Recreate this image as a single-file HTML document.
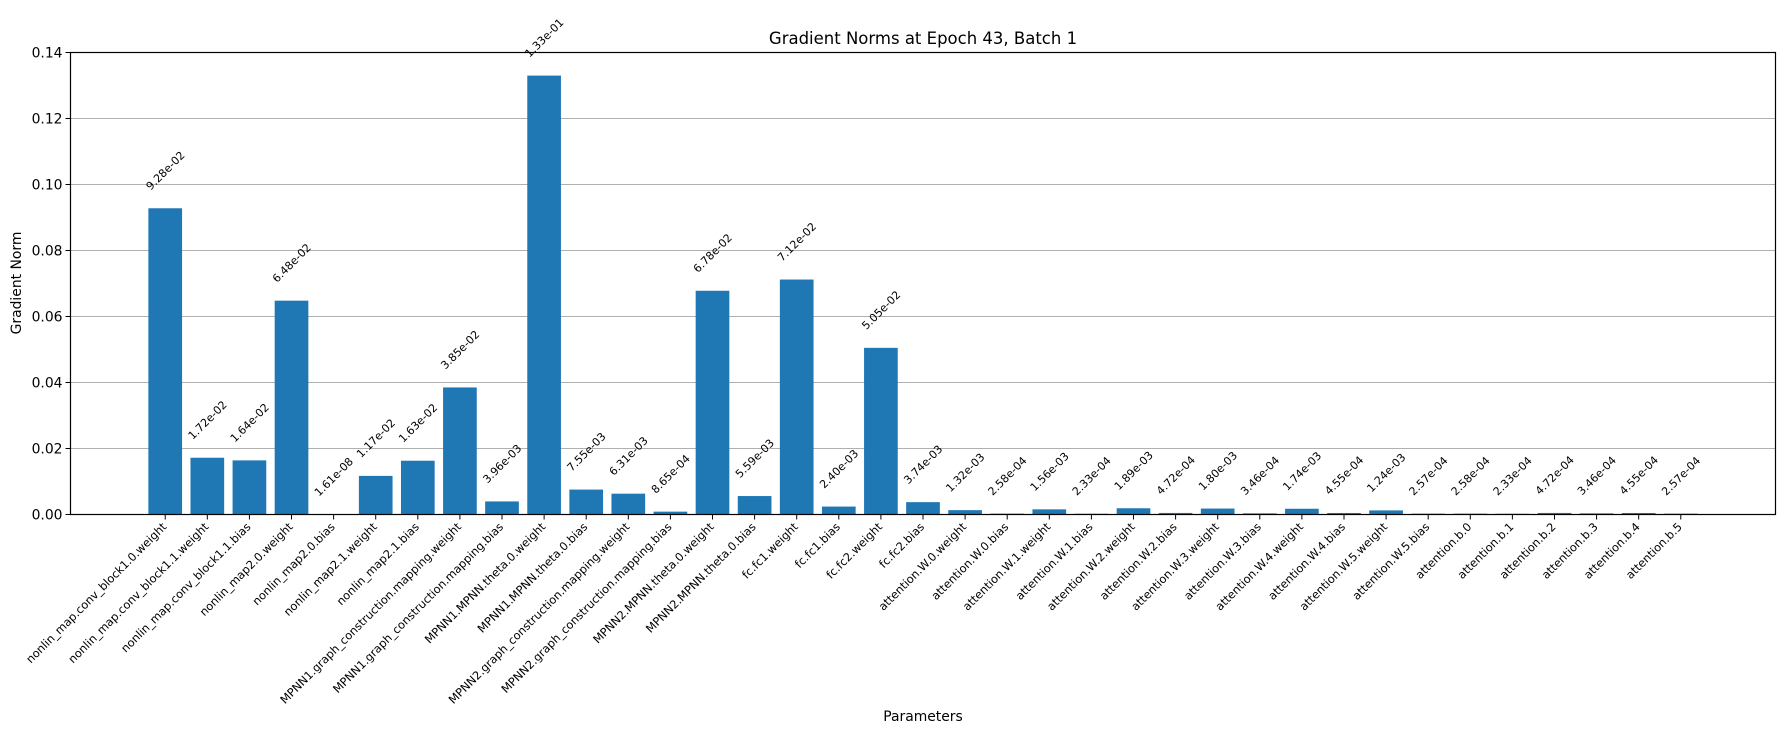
<!DOCTYPE html>
<html><head><meta charset="utf-8"><style>
html,body{margin:0;padding:0;background:#fff;}
svg{display:block;font-family:"DejaVu Sans","Liberation Sans",sans-serif;}
</style></head><body>
<svg id="chart" width="1785" height="734" viewBox="0 0 1785 734" xmlns="http://www.w3.org/2000/svg">
<text x="923" y="44" font-size="16.5" text-anchor="middle">Gradient Norms at Epoch 43, Batch 1</text>
<text x="0" y="0" font-size="13.9" text-anchor="middle" transform="translate(21,283) rotate(-90)">Gradient Norm</text>
<text x="923" y="721" font-size="13.9" text-anchor="middle">Parameters</text>
<g id="grid"></g><g id="bars"></g><g id="vals"></g><g id="xt"></g><g id="yt"></g>
<rect x="70.5" y="52.5" width="1705" height="462" fill="none" stroke="#000" stroke-width="1.2"/>
</svg>
<script>
const categories = ["nonlin_map.conv_block1.0.weight","nonlin_map.conv_block1.1.weight","nonlin_map.conv_block1.1.bias","nonlin_map2.0.weight","nonlin_map2.0.bias","nonlin_map2.1.weight","nonlin_map2.1.bias","MPNN1.graph_construction.mapping.weight","MPNN1.graph_construction.mapping.bias","MPNN1.MPNN.theta.0.weight","MPNN1.MPNN.theta.0.bias","MPNN2.graph_construction.mapping.weight","MPNN2.graph_construction.mapping.bias","MPNN2.MPNN.theta.0.weight","MPNN2.MPNN.theta.0.bias","fc.fc1.weight","fc.fc1.bias","fc.fc2.weight","fc.fc2.bias","attention.W.0.weight","attention.W.0.bias","attention.W.1.weight","attention.W.1.bias","attention.W.2.weight","attention.W.2.bias","attention.W.3.weight","attention.W.3.bias","attention.W.4.weight","attention.W.4.bias","attention.W.5.weight","attention.W.5.bias","attention.b.0","attention.b.1","attention.b.2","attention.b.3","attention.b.4","attention.b.5"];
const values = [9.28e-02,1.72e-02,1.64e-02,6.48e-02,1.61e-08,1.17e-02,1.63e-02,3.85e-02,3.96e-03,1.33e-01,7.55e-03,6.31e-03,8.65e-04,6.78e-02,5.59e-03,7.12e-02,2.40e-03,5.05e-02,3.74e-03,1.32e-03,2.58e-04,1.56e-03,2.33e-04,1.89e-03,4.72e-04,1.80e-03,3.46e-04,1.74e-03,4.55e-04,1.24e-03,2.57e-04,2.58e-04,2.33e-04,4.72e-04,3.46e-04,4.55e-04,2.57e-04];
const yTicks = [0,0.02,0.04,0.06,0.08,0.10,0.12,0.14];
const yTickLabels = ["0.00","0.02","0.04","0.06","0.08","0.10","0.12","0.14"];

const NS="http://www.w3.org/2000/svg";
const L=70.5,R=1775.5,T=52.5,B=514.5;
const xMin=-2.25,xMax=categories.length+1.25;
const x=v=>L+(v-xMin)/(xMax-xMin)*(R-L);
const y=v=>B-(v/0.14)*(B-T);
const bw=(x(0.8)-x(0));
function mk(tag,parent){const e=document.createElementNS(NS,tag);document.getElementById(parent).appendChild(e);return e;}
yTicks.forEach((t,i)=>{
  if(i>0&&i<yTicks.length-1){
    const g=mk('line','grid');
    
    
    g.setAttribute('x1',L);g.setAttribute('x2',R);g.setAttribute('y1',y(t));g.setAttribute('y2',y(t));
    g.setAttribute('stroke','#b0b0b0');g.setAttribute('stroke-width','1');
  }
  const tk=mk('line','yt');
  
  
  tk.setAttribute('x1',L-5);tk.setAttribute('x2',L);tk.setAttribute('y1',y(t));tk.setAttribute('y2',y(t));tk.setAttribute('stroke','#000');
  const tl=mk('text','yt');
  
  
  tl.setAttribute('x',L-8);tl.setAttribute('y',y(t)+5);tl.setAttribute('text-anchor','end');tl.setAttribute('font-size','13.9');
  tl.textContent=yTickLabels[i];
});
categories.forEach((c,i)=>{
  const v=values[i];
  const r=mk('rect','bars');
  
  
  r.setAttribute('x',x(i)-bw/2);r.setAttribute('width',bw);
  r.setAttribute('y',y(v));r.setAttribute('height',B-y(v));r.setAttribute('fill','#1f77b4');
  const tk=mk('line','xt');
  
  
  tk.setAttribute('x1',x(i));tk.setAttribute('x2',x(i));tk.setAttribute('y1',B);tk.setAttribute('y2',B+5);tk.setAttribute('stroke','#000');
  const xl=mk('text','xt');
  
  
  xl.setAttribute('font-size','11.4');xl.setAttribute('text-anchor','end');
  xl.setAttribute('transform','translate('+(x(i)+2)+','+(B+13)+') rotate(-45)');
  xl.textContent=c;
  const vl=mk('text','vals');
  
  
  vl.setAttribute('font-size','11');vl.setAttribute('text-anchor','middle');
  vl.textContent=v.toExponential(2).replace(/e([+-])(\d)$/,'e$10$2');
  const w=vl.getComputedTextLength?vl.getComputedTextLength():50;
  const half=(w+11)*0.7071/2;
  vl.setAttribute('transform','translate('+x(i)+','+(y(v+0.005)-half)+') rotate(-45)');
  vl.setAttribute('dy','4');
});
</script>
</body></html>
